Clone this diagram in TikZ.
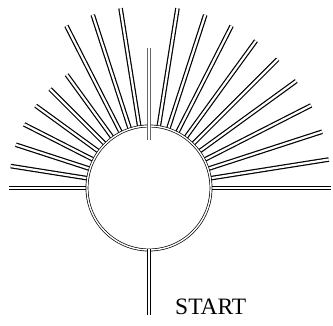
\documentclass[tikz,border=0pt]{standalone}
\usepackage{fontspec}
\setmainfont{Liberation Serif}
\usetikzlibrary{calc}
\begin{document}
\begin{tikzpicture}[x=1pt,y=1pt,
  road/.style={line width=1.2pt,double=white,double distance=2.2pt},
  ring/.style={line width=0.7pt,double=white,double distance=1.4pt},
  lab/.style={font=\fontsize{23.5}{26}\selectfont,inner sep=0pt}]
  \useasboundingbox (0,0) rectangle (333,326);
  \coordinate (hub) at (149,138);
  \coordinate (gate) at (149,77);
  \coordinate (stop) at (149,11);
  % long spokes
  \foreach \a in {0,9,...,81} \draw[road] ($(hub)+(\a:63)$) -- ($(hub)+(\a:182)$);
  \foreach \a in {99,108,117} \draw[road] ($(hub)+(\a:63)$) -- ($(hub)+(\a:182)$);
  % short spokes
  \foreach \a in {126,135,...,180} \draw[road] ($(hub)+(\a:63)$) -- ($(hub)+(\a:140)$);
  \draw[ring] (hub) circle[radius=62];
  % centre spoke
  \draw[road,draw=gray!80!black] ($(hub)+(0,48)$) -- ($(hub)+(0,140)$);
  \draw[road] (gate) -- (stop);
  \node[lab,anchor=base west] (start) at (175,11) {START};
\end{tikzpicture}
\end{document}
